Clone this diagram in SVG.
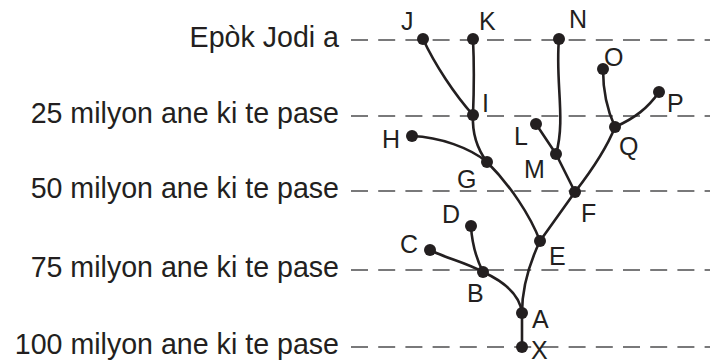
<svg xmlns="http://www.w3.org/2000/svg" width="710" height="362" viewBox="0 0 710 362">
<style>
.axis{font-family:"Liberation Sans",Arial,sans-serif;font-size:28.6px;fill:#231f20;text-anchor:end}
.lbl{font-family:"Liberation Sans",Arial,sans-serif;font-size:25px;fill:#231f20}
.grid{stroke:#4d4d4f;stroke-width:1.5;stroke-dasharray:17 10.2;fill:none}
.br{stroke:#231f20;stroke-width:2.6;fill:none;stroke-linecap:round}
.dot{fill:#231f20}
</style>
<rect width="710" height="362" fill="#fff"/>
<g id="timeline">
<text class="axis" x="339" y="47">Epòk Jodi a</text>
<text class="axis" x="339" y="123">25 milyon ane ki te pase</text>
<text class="axis" x="339" y="198">50 milyon ane ki te pase</text>
<text class="axis" x="339" y="277">75 milyon ane ki te pase</text>
<text class="axis" x="339" y="354">100 milyon ane ki te pase</text>
<line class="grid" x1="351" y1="40" x2="710" y2="40"/>
<line class="grid" x1="351" y1="116" x2="710" y2="116"/>
<line class="grid" x1="351" y1="191" x2="710" y2="191"/>
<line class="grid" x1="351" y1="270" x2="710" y2="270"/>
<line class="grid" x1="351" y1="347" x2="710" y2="347"/>
</g>
<g id="connectors">
<path class="br" d="M522,347 L522,313"/>
<path class="br" d="M522,313 C520,295 505,282 483,272"/>
<path class="br" d="M522,313 C522,285 530,262 540,241"/>
<path class="br" d="M483,272 C465,262 445,258 430,250"/>
<path class="br" d="M483,272 C476,258 472,245 471,226"/>
<path class="br" d="M540,241 C530,215 510,185 487,162"/>
<path class="br" d="M540,241 L575,192"/>
<path class="br" d="M412,136 C440,137 470,148 487,162"/>
<path class="br" d="M473,115 C472,135 478,150 487,162"/>
<path class="br" d="M423,39 C435,65 455,95 473,115"/>
<path class="br" d="M473,39 C474,60 474,90 473,115"/>
<path class="br" d="M575,192 L556,154"/>
<path class="br" d="M556,154 L536,124"/>
<path class="br" d="M559,39 C555,80 566,120 556,154"/>
<path class="br" d="M575,192 C592,170 606,150 615,127"/>
<path class="br" d="M603,69 C603,95 608,112 615,127"/>
<path class="br" d="M615,127 C635,118 648,108 659,92"/>
</g>
<g id="node-X"><circle class="dot" cx="522" cy="347" r="6"/><text class="lbl" x="531" y="359">X</text></g>
<g id="node-A"><circle class="dot" cx="522" cy="313" r="6"/><text class="lbl" x="532" y="328">A</text></g>
<g id="node-B"><circle class="dot" cx="483" cy="272" r="6"/><text class="lbl" x="467" y="302">B</text></g>
<g id="node-C"><circle class="dot" cx="430" cy="250" r="6"/><text class="lbl" x="400" y="253">C</text></g>
<g id="node-D"><circle class="dot" cx="471" cy="226" r="6"/><text class="lbl" x="442" y="223">D</text></g>
<g id="node-E"><circle class="dot" cx="540" cy="241" r="6"/><text class="lbl" x="549" y="265">E</text></g>
<g id="node-F"><circle class="dot" cx="575" cy="192" r="6"/><text class="lbl" x="581" y="222">F</text></g>
<g id="node-G"><circle class="dot" cx="487" cy="162" r="6"/><text class="lbl" x="457" y="188">G</text></g>
<g id="node-H"><circle class="dot" cx="412" cy="136" r="6"/><text class="lbl" x="382" y="148">H</text></g>
<g id="node-I"><circle class="dot" cx="473" cy="115" r="6"/><text class="lbl" x="482" y="112">I</text></g>
<g id="node-J"><circle class="dot" cx="423" cy="39" r="6"/><text class="lbl" x="401" y="30">J</text></g>
<g id="node-K"><circle class="dot" cx="473" cy="39" r="6"/><text class="lbl" x="479" y="30">K</text></g>
<g id="node-L"><circle class="dot" cx="536" cy="124" r="6"/><text class="lbl" x="514" y="145">L</text></g>
<g id="node-M"><circle class="dot" cx="556" cy="154" r="6"/><text class="lbl" x="524" y="178">M</text></g>
<g id="node-N"><circle class="dot" cx="559" cy="39" r="6"/><text class="lbl" x="569" y="28">N</text></g>
<g id="node-O"><circle class="dot" cx="603" cy="69" r="6"/><text class="lbl" x="604" y="66">O</text></g>
<g id="node-P"><circle class="dot" cx="659" cy="92" r="6"/><text class="lbl" x="667" y="112">P</text></g>
<g id="node-Q"><circle class="dot" cx="615" cy="127" r="6"/><text class="lbl" x="619" y="155">Q</text></g>
</svg>
